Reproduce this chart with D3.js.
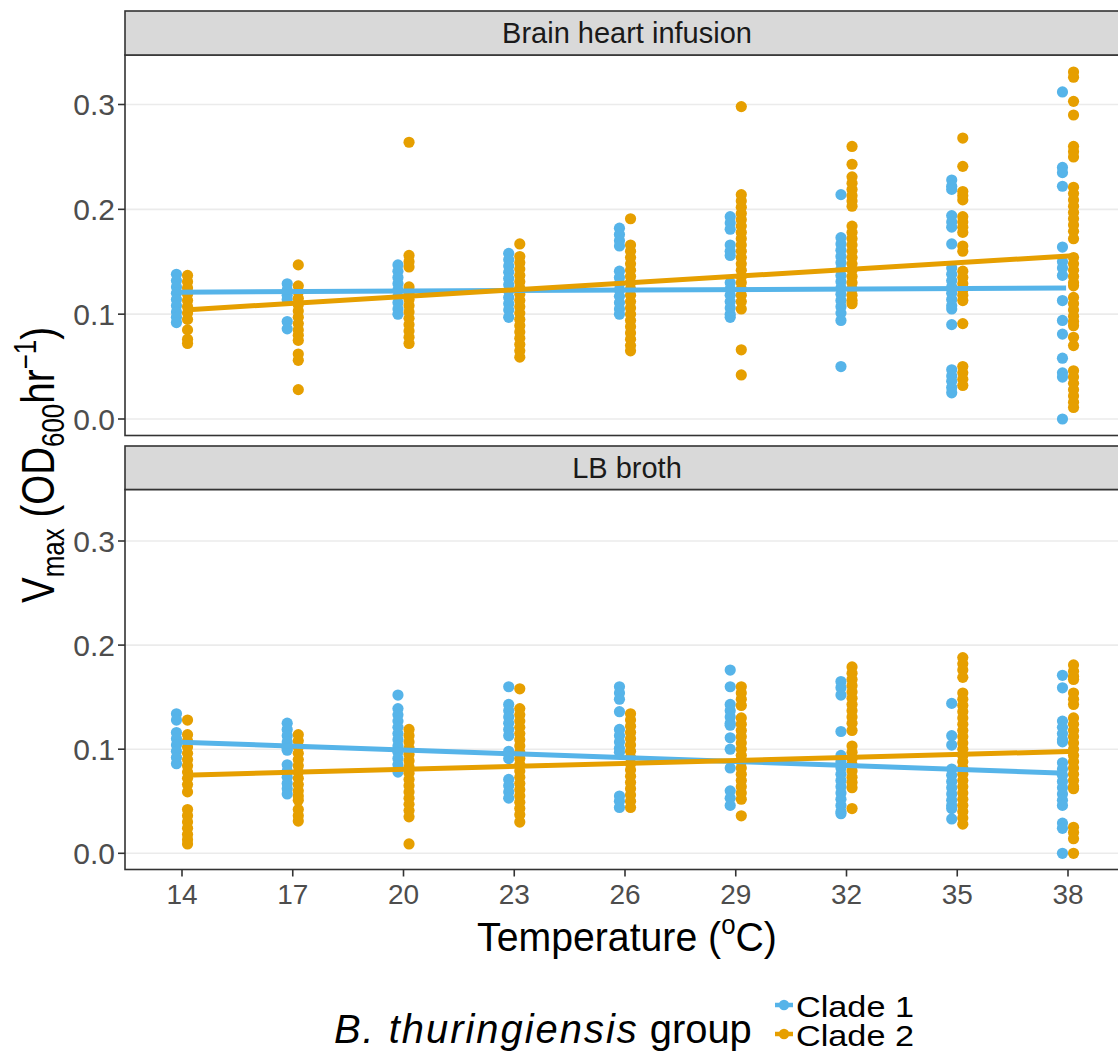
<!DOCTYPE html>
<html>
<head>
<meta charset="utf-8">
<script src="https://cdn.jsdelivr.net/npm/d3@7"></script>
<style>
  html, body { margin: 0; padding: 0; background: #fff; }
  svg { display: block; font-family: "Liberation Sans", Arial, sans-serif; }
</style>
</head>
<body>
<svg id="chart" width="1118" height="1054"></svg>
<script>
// ---- data ---------------------------------------------------------------
const temps = [14, 17, 20, 23, 26, 29, 32, 35, 38];
const media = ["Brain heart infusion", "LB broth"];
const clades = ["Clade 1", "Clade 2"];
const yTicks = [0.0, 0.1, 0.2, 0.3];

// Vmax readings per temperature (outer index follows temps)
const bhiClade1 = [
  [0.138,0.132,0.126,0.120,0.114,0.108,0.102,0.097,0.092],
  [0.129,0.123,0.118,0.114,0.093,0.086],
  [0.147,0.141,0.135,0.129,0.123,0.117,0.111,0.105,0.100],
  [0.158,0.152,0.146,0.140,0.134,0.128,0.122,0.116,0.110,0.104,0.097],
  [0.182,0.176,0.170,0.165,0.141,0.135,0.129,0.123,0.117,0.111,0.105,0.100],
  [0.193,0.187,0.181,0.166,0.160,0.156,0.130,0.124,0.118,0.112,0.106,0.100,0.097],
  [0.214,0.173,0.167,0.161,0.155,0.149,0.143,0.137,0.131,0.125,0.119,0.113,0.107,0.101,0.094,0.050],
  [0.228,0.222,0.219,0.194,0.188,0.183,0.167,0.144,0.138,0.132,0.126,0.120,0.114,0.108,0.105,0.090,0.047,0.041,0.036,0.030,0.025],
  [0.312,0.240,0.235,0.222,0.164,0.150,0.144,0.137,0.113,0.094,0.081,0.058,0.044,0.040,0.000]
];
const bhiClade2 = [
  [0.137,0.131,0.125,0.119,0.113,0.107,0.101,0.095,0.085,0.076,0.072],
  [0.147,0.127,0.121,0.115,0.109,0.103,0.097,0.091,0.085,0.080,0.075,0.062,0.056,0.028],
  [0.264,0.156,0.150,0.145,0.126,0.120,0.114,0.108,0.102,0.096,0.090,0.084,0.078,0.072],
  [0.167,0.155,0.149,0.143,0.137,0.131,0.125,0.119,0.113,0.107,0.101,0.095,0.089,0.083,0.077,0.071,0.065,0.059],
  [0.191,0.166,0.160,0.154,0.148,0.142,0.136,0.130,0.124,0.118,0.112,0.106,0.100,0.094,0.088,0.082,0.076,0.070,0.065],
  [0.298,0.214,0.208,0.202,0.196,0.190,0.184,0.178,0.172,0.166,0.160,0.154,0.148,0.142,0.136,0.130,0.124,0.118,0.112,0.105,0.066,0.042],
  [0.260,0.243,0.231,0.225,0.219,0.213,0.208,0.203,0.184,0.178,0.172,0.166,0.160,0.154,0.148,0.142,0.136,0.130,0.124,0.118,0.113,0.110],
  [0.268,0.241,0.217,0.213,0.209,0.193,0.188,0.183,0.178,0.165,0.160,0.141,0.135,0.129,0.123,0.118,0.113,0.091,0.050,0.044,0.038,0.032],
  [0.331,0.326,0.303,0.290,0.260,0.255,0.250,0.221,0.215,0.209,0.203,0.197,0.191,0.185,0.179,0.172,0.154,0.148,0.142,0.136,0.130,0.127,0.116,0.110,0.104,0.098,0.093,0.089,0.078,0.070,0.046,0.040,0.034,0.028,0.022,0.016,0.011]
];
const lbClade1 = [
  [0.134,0.128,0.116,0.110,0.104,0.098,0.092,0.086],
  [0.125,0.119,0.113,0.107,0.101,0.099,0.085,0.079,0.073,0.067,0.062,0.057],
  [0.152,0.139,0.133,0.127,0.121,0.115,0.109,0.103,0.097,0.091,0.085,0.078],
  [0.160,0.143,0.137,0.131,0.125,0.119,0.113,0.098,0.091,0.071,0.065,0.059,0.053],
  [0.160,0.154,0.148,0.136,0.119,0.113,0.107,0.101,0.097,0.055,0.050,0.044],
  [0.176,0.160,0.143,0.137,0.131,0.125,0.123,0.111,0.100,0.082,0.060,0.053,0.046],
  [0.165,0.159,0.152,0.117,0.094,0.088,0.082,0.076,0.070,0.064,0.058,0.052,0.046,0.040,0.038],
  [0.144,0.113,0.104,0.081,0.075,0.069,0.063,0.057,0.051,0.046,0.043,0.033],
  [0.171,0.159,0.127,0.121,0.115,0.109,0.107,0.087,0.081,0.075,0.069,0.063,0.057,0.051,0.046,0.029,0.024,0.000]
];
const lbClade2 = [
  [0.128,0.114,0.108,0.102,0.096,0.090,0.084,0.078,0.072,0.066,0.059,0.042,0.036,0.030,0.024,0.018,0.013,0.009],
  [0.114,0.108,0.102,0.096,0.090,0.084,0.078,0.072,0.066,0.060,0.055,0.051,0.042,0.036,0.031],
  [0.119,0.113,0.107,0.101,0.095,0.089,0.083,0.077,0.071,0.065,0.059,0.053,0.047,0.041,0.035,0.009],
  [0.158,0.139,0.133,0.127,0.121,0.115,0.109,0.103,0.097,0.091,0.085,0.079,0.073,0.067,0.061,0.055,0.049,0.043,0.037,0.030],
  [0.134,0.128,0.122,0.116,0.110,0.104,0.098,0.092,0.086,0.080,0.074,0.068,0.062,0.056,0.050,0.044],
  [0.160,0.154,0.148,0.142,0.130,0.124,0.118,0.112,0.106,0.100,0.094,0.088,0.082,0.076,0.070,0.064,0.058,0.052,0.036],
  [0.179,0.173,0.167,0.161,0.155,0.149,0.143,0.137,0.131,0.125,0.118,0.103,0.097,0.091,0.085,0.079,0.073,0.068,0.063,0.043],
  [0.188,0.182,0.176,0.169,0.154,0.148,0.142,0.136,0.130,0.124,0.118,0.112,0.106,0.100,0.094,0.088,0.082,0.076,0.070,0.064,0.058,0.052,0.046,0.040,0.034,0.028],
  [0.181,0.175,0.170,0.167,0.154,0.148,0.143,0.130,0.124,0.118,0.112,0.106,0.100,0.094,0.088,0.082,0.076,0.070,0.064,0.062,0.025,0.020,0.014,0.000]
];

// Linear fits: value at 14 °C and at 38 °C, [Clade 1, Clade 2] for each medium
const fitAt14 = [[0.121, 0.104], [0.107, 0.075]];
const fitAt38 = [[0.125, 0.156], [0.077, 0.098]];

// ---- styles -------------------------------------------------------------
const colors = ["#56B4E9", "#E69F00"];
const dodge = [-0.15, 0.15];

const svg = d3.select("#chart");

const panelLeft = 125, panelRight = 1130;
const panels = [
  { top: 55, bottom: 435.5, stripTop: 11, y0: 419, y3: 104.5, values: [bhiClade1, bhiClade2] },
  { top: 489.5, bottom: 869.5, stripTop: 446, y0: 853.3, y3: 541, values: [lbClade1, lbClade2] }
];

const x = d3.scaleLinear().domain([14, 38]).range([182, 1068]);

panels.forEach((p, pi) => {
  const y = d3.scaleLinear().domain([0, 0.3]).range([p.y0, p.y3]);
  const g = svg.append("g");

  // panel background and grid
  g.append("rect")
    .attr("x", panelLeft).attr("y", p.top)
    .attr("width", panelRight - panelLeft).attr("height", p.bottom - p.top)
    .attr("fill", "#fff");

  g.append("g").selectAll("line").data(yTicks).join("line")
    .attr("x1", panelLeft).attr("x2", panelRight)
    .attr("y1", d => y(d)).attr("y2", d => y(d))
    .attr("stroke", "#EBEBEB").attr("stroke-width", 1.6);

  // points
  clades.forEach((c, ci) => {
    const pts = [];
    p.values[ci].forEach((vals, ti) => vals.forEach(v => pts.push({ t: temps[ti], v })));
    g.append("g").selectAll("circle").data(pts).join("circle")
      .attr("cx", d => x(d.t + dodge[ci]))
      .attr("cy", d => y(d.v))
      .attr("r", 5.6)
      .attr("fill", colors[ci]);
  });

  // fitted lines
  clades.forEach((c, ci) => {
    g.append("line")
      .attr("x1", x(14 + dodge[ci] - 0.08)).attr("x2", x(38 + dodge[ci] + 0.1))
      .attr("y1", y(fitAt14[pi][ci])).attr("y2", y(fitAt38[pi][ci]))
      .attr("stroke", colors[ci]).attr("stroke-width", 5);
  });

  // panel border
  g.append("rect")
    .attr("x", panelLeft).attr("y", p.top)
    .attr("width", panelRight - panelLeft).attr("height", p.bottom - p.top)
    .attr("fill", "none").attr("stroke", "#333333").attr("stroke-width", 1.6);

  // strip
  g.append("rect")
    .attr("x", panelLeft).attr("y", p.stripTop)
    .attr("width", panelRight - panelLeft).attr("height", p.top - p.stripTop)
    .attr("fill", "#D9D9D9").attr("stroke", "#333333").attr("stroke-width", 1.6);
  g.append("text")
    .attr("x", 627).attr("y", (p.stripTop + p.top) / 2 + 10)
    .attr("text-anchor", "middle")
    .attr("font-size", 29).attr("fill", "#1A1A1A")
    .text(media[pi]);

  // y axis
  const ya = g.append("g");
  ya.selectAll("line").data(yTicks).join("line")
    .attr("x1", panelLeft - 7).attr("x2", panelLeft)
    .attr("y1", d => y(d)).attr("y2", d => y(d))
    .attr("stroke", "#333333").attr("stroke-width", 1.6);
  ya.selectAll("text").data(yTicks).join("text")
    .attr("x", panelLeft - 10).attr("y", d => y(d) + 10.5)
    .attr("text-anchor", "end")
    .attr("font-size", 30).attr("fill", "#4D4D4D")
    .text(d => d3.format(".1f")(d));

  // x axis only under the last panel
  if (pi === panels.length - 1) {
    const xa = g.append("g");
    xa.selectAll("line").data(temps).join("line")
      .attr("x1", d => x(d)).attr("x2", d => x(d))
      .attr("y1", p.bottom).attr("y2", p.bottom + 7)
      .attr("stroke", "#333333").attr("stroke-width", 1.6);
    xa.selectAll("text").data(temps).join("text")
      .attr("x", d => x(d)).attr("y", p.bottom + 34)
      .attr("text-anchor", "middle")
      .attr("font-size", 28).attr("fill", "#4D4D4D")
      .text(d => d);
  }
});

// horizontal squeeze factor that brings a text node to a given width
function squeezeTo(sel, width) {
  return width / sel.node().getBBox().width;
}

// x-axis title
const xt = svg.append("text")
  .attr("text-anchor", "middle")
  .attr("font-size", 41).attr("fill", "#000");
xt.append("tspan").text("Temperature (");
xt.append("tspan").attr("font-size", 27).attr("dy", -17).text("o");
xt.append("tspan").attr("dy", 17).text("C)");
xt.attr("transform", `translate(627,951) scale(${squeezeTo(xt, 300)},1)`);

// y-axis title
const yt = svg.append("text")
  .attr("text-anchor", "middle")
  .attr("font-size", 46).attr("fill", "#000");
yt.append("tspan").text("V");
yt.append("tspan").attr("font-size", 31).attr("dy", 10).text("max");
yt.append("tspan").attr("dy", -10).text(" (OD");
yt.append("tspan").attr("font-size", 31).attr("dy", 10).text("600");
yt.append("tspan").attr("dy", -10).text("hr");
yt.append("tspan").attr("font-size", 31).attr("dy", -18).text("\u22121");
yt.append("tspan").attr("dy", 18).text(")");
yt.attr("transform", `translate(54,465) rotate(-90) scale(${squeezeTo(yt, 276)},1)`);

// legend
const lt = svg.append("text")
  .attr("font-size", 40).attr("fill", "#000");
lt.append("tspan").attr("font-style", "italic").attr("letter-spacing", 2).text("B. thuringiensis");
lt.append("tspan").text(" group");
lt.attr("transform", `translate(334,1043) scale(${squeezeTo(lt, 418)},1)`);

const legendRows = [1005, 1034];
clades.forEach((c, ci) => {
  const lg = svg.append("g").attr("transform", `translate(0,${legendRows[ci]})`);
  lg.append("line").attr("x1", 775).attr("x2", 793).attr("y1", 0).attr("y2", 0)
    .attr("stroke", colors[ci]).attr("stroke-width", 4.5);
  lg.append("circle").attr("cx", 784).attr("cy", 0).attr("r", 5.2).attr("fill", colors[ci]);
  const tx = lg.append("text").attr("font-size", 29).attr("fill", "#000").text(c);
  tx.attr("transform", `translate(796,12) scale(${squeezeTo(tx, 118)},1)`);
});
</script>
</body>
</html>
